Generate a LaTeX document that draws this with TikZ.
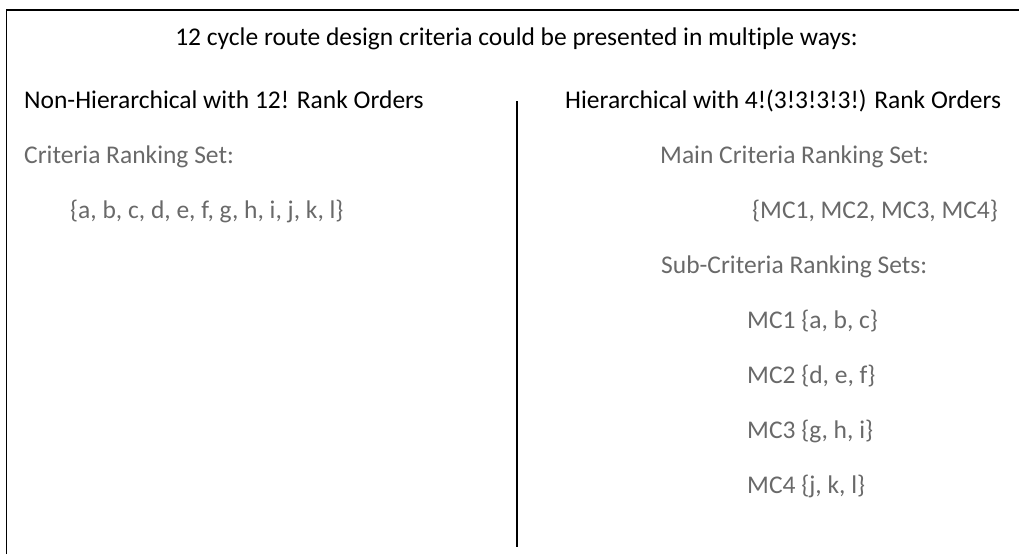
\documentclass[tikz,border=0pt]{standalone}
\usepackage{fontspec}
\setmainfont[Ligatures=NoCommon]{Carlito}
\definecolor{txtgray}{RGB}{105,105,105}
\begin{document}
\begin{tikzpicture}[x=1pt,y=-1pt,
  lbl/.style={inner sep=0pt,anchor=base west,font=\fontsize{25.5}{30}\selectfont},
  sub/.style={lbl,text=txtgray},
  rule/.style={line width=1.8pt,black}]
\useasboundingbox (0,0) rectangle (1019,554);
\draw[rule] (6.5,554) -- (6.5,10) -- (1019,10);
\node[lbl,anchor=base] (title) at (516.5,45) {12 cycle route design criteria could be presented in multiple ways:};
\node[lbl] (nh) at (24,108) {Non-Hierarchical with 12! Rank Orders};
\node[sub] (crs) at (24,163) {Criteria Ranking Set:};
\node[sub] (set) at (70,218) {\{a, b, c, d, e, f, g, h, i, j, k, l\}};
\node[lbl] (h) at (565,108) {Hierarchical with 4!(3!3!3!3!) Rank Orders};
\node[sub] (mcrs) at (660,163) {Main Criteria Ranking Set:};
\node[sub] (mset) at (752,218) {\{MC1, MC2, MC3, MC4\}};
\node[sub] (scrs) at (661,273) {Sub-Criteria Ranking Sets:};
\node[sub] (mc1) at (747,328) {MC1 \{a, b, c\}};
\node[sub] (mc2) at (747,383) {MC2 \{d, e, f\}};
\node[sub] (mc3) at (747,438) {MC3 \{g, h, i\}};
\node[sub] (mc4) at (747,493) {MC4 \{j, k, l\}};
\coordinate (dtop) at (517,101);
\coordinate (dbot) at (517,547);
\draw[rule] (dtop) -- (dbot);
\end{tikzpicture}
\end{document}
